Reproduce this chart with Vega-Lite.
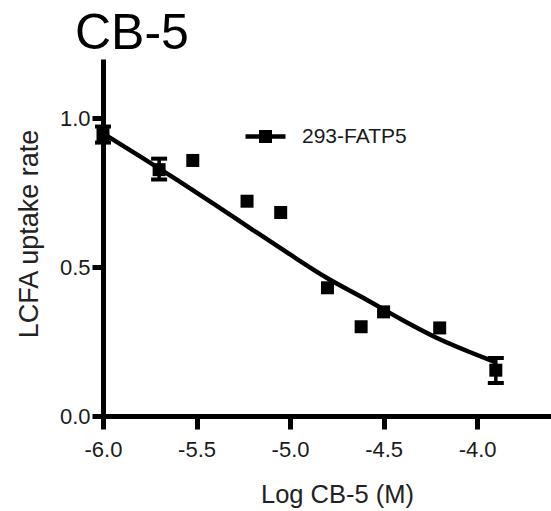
{
  "$schema": "https://vega.github.io/schema/vega-lite/v6.json",
  "width": 448,
  "height": 357,
  "autosize": {"type": "none"},
  "padding": {"left": 103, "top": 59, "right": 0, "bottom": 95},
  "background": "white",
  "title": {
    "text": "CB-5",
    "anchor": "start",
    "frame": "group",
    "fontSize": 50,
    "font": "Liberation Sans",
    "fontWeight": "normal",
    "color": "black",
    "dx": -28,
    "dy": 47,
    "offset": 7,
    "baseline": "alphabetic"
  },
  "datasets": {
    "curve": [
      {"x": -6.0, "y": 0.950},
      {"x": -5.8, "y": 0.872},
      {"x": -5.6, "y": 0.792},
      {"x": -5.4, "y": 0.710},
      {"x": -5.2, "y": 0.626},
      {"x": -5.0, "y": 0.543},
      {"x": -4.8, "y": 0.463},
      {"x": -4.6, "y": 0.394},
      {"x": -4.4, "y": 0.323},
      {"x": -4.2, "y": 0.258},
      {"x": -4.0, "y": 0.205},
      {"x": -3.9, "y": 0.180}
    ],
    "points": [
      {"x": -6.0, "y": 0.946, "series": "293-FATP5"},
      {"x": -5.7, "y": 0.828, "series": "293-FATP5"},
      {"x": -5.52, "y": 0.859, "series": "293-FATP5"},
      {"x": -5.23, "y": 0.722, "series": "293-FATP5"},
      {"x": -5.05, "y": 0.684, "series": "293-FATP5"},
      {"x": -4.8, "y": 0.431, "series": "293-FATP5"},
      {"x": -4.62, "y": 0.300, "series": "293-FATP5"},
      {"x": -4.5, "y": 0.350, "series": "293-FATP5"},
      {"x": -4.2, "y": 0.296, "series": "293-FATP5"},
      {"x": -3.9, "y": 0.154, "series": "293-FATP5"}
    ],
    "errors": [
      {"x": -6.0, "lo": 0.919, "hi": 0.973},
      {"x": -5.7, "lo": 0.795, "hi": 0.865},
      {"x": -3.9, "lo": 0.111, "hi": 0.195}
    ]
  },
  "layer": [
    {
      "data": {"name": "curve"},
      "mark": {"type": "line", "color": "black", "strokeWidth": 4.5, "interpolate": "monotone"},
      "encoding": {
        "x": {
          "field": "x", "type": "quantitative", "title": "Log CB-5 (M)",
          "scale": {"domain": [-6, -3.605], "nice": false, "zero": false},
          "axis": {
            "values": [-6, -5.5, -5, -4.5, -4],
            "labelExpr": "datum.value < 0 ? '-' + format(-datum.value, '.1f') : format(datum.value, '.1f')",
            "tickSize": 13,
            "tickWidth": 5,
            "domainWidth": 5,
            "domainColor": "black",
            "tickColor": "black",
            "labelFont": "Liberation Sans",
            "labelFontSize": 22,
            "labelColor": "#1a1a1a",
            "labelPadding": 10,
            "labelFlush": false,
            "grid": false,
            "title": "Log CB-5 (M)",
            "titleFont": "Liberation Sans",
            "titleFontSize": 25.5,
            "titleFontWeight": "normal",
            "titleColor": "#222",
            "titleX": 234,
            "titleY": 86,
            "titleAlign": "center",
            "titleBaseline": "alphabetic"
          }
        },
        "y": {
          "field": "y", "type": "quantitative", "title": "LCFA uptake rate",
          "scale": {"domain": [0, 1.2], "nice": false, "zero": false},
          "axis": {
            "values": [0, 0.5, 1],
            "format": ".1f",
            "tickSize": 11,
            "tickWidth": 5,
            "domainWidth": 5,
            "domainColor": "black",
            "tickColor": "black",
            "labelFont": "Liberation Sans",
            "labelFontSize": 22,
            "labelColor": "#1a1a1a",
            "labelPadding": 2,
            "labelFlush": false,
            "grid": false,
            "title": "LCFA uptake rate",
            "titleFont": "Liberation Sans",
            "titleFontSize": 27,
            "titleFontWeight": "normal",
            "titleColor": "#222",
            "titleAngle": 270,
            "titleX": -66,
            "titleY": 174.5,
            "titleAlign": "center",
            "titleBaseline": "alphabetic"
          }
        }
      }
    },
    {
      "data": {"name": "errors"},
      "mark": {
        "type": "errorbar",
        "color": "black",
        "opacity": 1,
        "rule": {"strokeWidth": 3.5, "color": "black", "opacity": 1},
        "ticks": {"size": 16, "thickness": 4, "color": "black", "opacity": 1}
      },
      "encoding": {
        "x": {"field": "x", "type": "quantitative", "title": "Log CB-5 (M)", "scale": {"domain": [-6, -3.605], "nice": false, "zero": false}},
        "y": {"field": "lo", "type": "quantitative", "title": "LCFA uptake rate", "scale": {"domain": [0, 1.2], "nice": false, "zero": false}},
        "y2": {"field": "hi"}
      }
    },
    {
      "data": {"name": "points"},
      "mark": {"type": "point", "shape": "square", "filled": true, "size": 169, "opacity": 1},
      "encoding": {
        "x": {"field": "x", "type": "quantitative", "title": "Log CB-5 (M)", "scale": {"domain": [-6, -3.605], "nice": false, "zero": false}},
        "y": {"field": "y", "type": "quantitative", "title": "LCFA uptake rate", "scale": {"domain": [0, 1.2], "nice": false, "zero": false}},
        "color": {
          "field": "series", "type": "nominal",
          "scale": {"range": ["black"]},
          "legend": {
            "title": null,
            "orient": "none",
            "legendX": 152,
            "legendY": 67,
            "padding": 0,
            "symbolType": "M-2,-0.22L2,-0.22L2,0.22L-2,0.22ZM-0.65,-0.65L0.65,-0.65L0.65,0.65L-0.65,0.65Z",
            "symbolSize": 400,
            "symbolFillColor": "black",
            "symbolStrokeWidth": 0,
            "symbolOpacity": 1,
            "labelFont": "Liberation Sans",
            "labelFontSize": 21,
            "labelColor": "#1a1a1a",
            "labelOffset": 26
          }
        }
      }
    }
  ],
  "config": {
    "view": {"stroke": null},
    "axis": {"labelFont": "Liberation Sans", "titleFont": "Liberation Sans"}
  }
}
